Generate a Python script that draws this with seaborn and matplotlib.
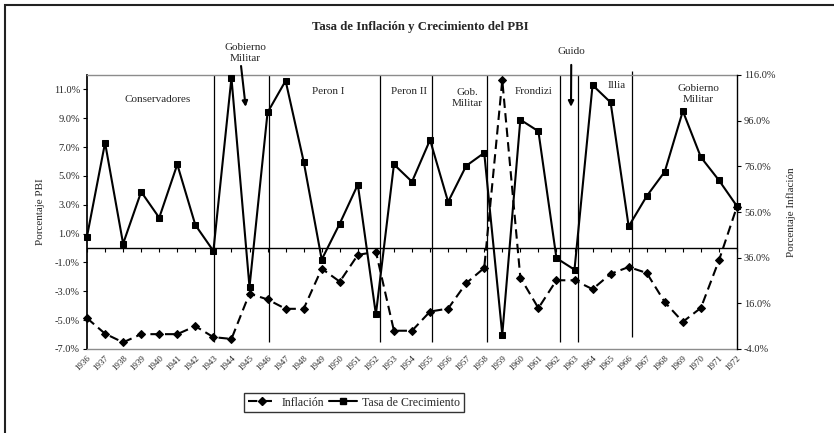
import numpy as np
import matplotlib
matplotlib.use("Agg")
import matplotlib.pyplot as plt
import matplotlib.transforms as mtransforms
import seaborn as sns
from matplotlib.lines import Line2D
from matplotlib.patches import Rectangle
from matplotlib.ticker import FuncFormatter

# datos
anios = list(range(1936, 1973))
crecimiento = [0.8, 7.3, 0.3, 3.9, 2.1, 5.8, 1.6, -0.2, 11.8, -2.7, 9.4, 11.6, 6.0,
               -0.8, 1.7, 4.4, -4.6, 5.8, 4.6, 7.5, 3.2, 5.7, 6.6, -6.0, 8.9, 8.1,
               -0.7, -1.5, 11.3, 10.1, 1.5, 3.6, 5.3, 9.5, 6.3, 4.7, 2.9]
inflacion = [9.5, 2.7, -1.1, 2.5, 2.5, 2.5, 6.0, 1.2, 0.4, 20.3, 17.7, 13.6, 13.6,
             31.2, 25.5, 37.2, 38.6, 4.0, 4.0, 12.4, 13.7, 24.8, 31.5, 113.7, 27.3,
             13.9, 26.1, 26.1, 22.2, 28.9, 31.9, 29.3, 16.5, 7.9, 14.0, 34.8, 58.4]

# cambios de gobierno
cortes = [1943.05, 1946.1, 1952.2, 1955.1, 1958.15, 1962.2, 1963.2, 1966.2]
periodos = ["Conservadores", "Peron I", "Peron II", "Gob.\nMilitar", "Frondizi",
            "Illia", "Gobierno\nMilitar"]
pos_periodos = [(0.109, 0.909), (0.371, 0.938), (0.495, 0.938), (0.585, 0.916),
                (0.687, 0.938), (0.815, 0.960), (0.940, 0.931)]

sns.set_theme(style="white")
plt.rcParams["font.family"] = ["Liberation Serif", "DejaVu Serif"]

fig = plt.figure(figsize=(8.34, 4.33), dpi=100)
ax = fig.add_axes([87 / 834, 1 - 349 / 433, 650 / 834, 274 / 433])
ax2 = ax.twinx()

sns.lineplot(x=anios, y=crecimiento, ax=ax, color="black", marker="s",
             markersize=4.5, markeredgecolor="black", linewidth=1.5, clip_on=False,
             zorder=5)
sns.lineplot(x=anios, y=inflacion, ax=ax2, color="black", marker="D",
             markersize=3.8, markeredgecolor="black", linewidth=1.5,
             linestyle=(0, (4.5, 2.5)), clip_on=False, zorder=5)

ax.set_xlim(1936, 1972)
ax.set_ylim(-7, 12)
ax2.set_ylim(-4, 116)
ax.set_yticks(np.arange(-7, 12, 2))
ax2.set_yticks(np.arange(-4, 117, 20))
pct = FuncFormatter(lambda v, _: f"{v:.1f}%")
ax.yaxis.set_major_formatter(pct)
ax2.yaxis.set_major_formatter(pct)

ax.set_xticks(anios)
ax.set_xticklabels([str(a) for a in anios], rotation=45, ha="right",
                   rotation_mode="anchor", fontsize=6.5)
desplazo = mtransforms.ScaledTranslation(-7 / 100, -6 / 100, fig.dpi_scale_trans)
for lab in ax.get_xticklabels():
    lab.set_transform(lab.get_transform() + desplazo)
ax.tick_params(axis="x", length=0, pad=4)
ax.tick_params(axis="y", left=True, length=3, width=0.8, color="black",
               labelsize=7.5, pad=2)
ax2.tick_params(axis="y", right=True, length=3, width=0.8, color="black",
                labelsize=7.5, pad=2)

for s in ["top", "bottom"]:
    ax.spines[s].set_color("#8c8c8c")
    ax.spines[s].set_linewidth(1)
ax.spines["left"].set_color("black")
ax.spines["right"].set_visible(False)
for s in ["top", "bottom", "left"]:
    ax2.spines[s].set_visible(False)
ax2.spines["right"].set_color("black")
ax2.spines["right"].set_linewidth(1)
ax.grid(False)
ax2.grid(False)

# eje horizontal en cero con marcas
ax.axhline(0, color="black", linewidth=1, zorder=2)
eje0 = ax.secondary_xaxis(7 / 19)
eje0.set_xticks(anios)
eje0.tick_params(axis="x", length=3, width=0.8, color="black", labelbottom=False,
                 direction="out")
eje0.spines["bottom"].set_visible(False)

# separadores de periodos
ax.vlines(cortes[:-1], -6.5, 12, color="black", linewidth=0.9, zorder=1)
ax.vlines(cortes[-1:], -6.2, 12.3, color="black", linewidth=0.9, zorder=1,
          clip_on=False)

for txt, (px, py) in zip(periodos, pos_periodos):
    ax.text(px, py, txt, transform=ax.transAxes, ha="center", va="center",
            fontsize=8, linespacing=1.3)

# anotaciones
ax.annotate("", xy=(0.2446, 0.8737), xytext=(0.2365, 1.043),
            xycoords="axes fraction", textcoords="axes fraction",
            arrowprops=dict(arrowstyle="-|>", color="black", lw=1.5,
                            mutation_scale=8))
ax.text(0.243, 1.080, "Gobierno\nMilitar", transform=ax.transAxes, ha="center",
        va="center", fontsize=8, linespacing=1.3)
ax.annotate("", xy=(0.7446, 0.8737), xytext=(0.745, 1.047),
            xycoords="axes fraction", textcoords="axes fraction",
            arrowprops=dict(arrowstyle="-|>", color="black", lw=1.5,
                            mutation_scale=8))
ax.text(0.7455, 1.085, "Guido", transform=ax.transAxes, ha="center",
        va="center", fontsize=8)

ax.set_ylabel("Porcentaje PBI", fontsize=8)
ax.yaxis.set_label_coords(-0.0646, 0.5)
ax2.set_ylabel("Porcentaje Inflación", fontsize=8)
ax2.yaxis.set_label_coords(1.0754, 0.5)

fig.text(420 / 834, 1 - 27 / 433, "Tasa de Inflación y Crecimiento del PBI",
         ha="center", va="center", fontsize=9.2, weight="bold")

handles = [
    Line2D([], [], color="black", lw=1.5, marker="D", markersize=3.8,
           linestyle=(0, (4.5, 2.5))),
    Line2D([], [], color="black", lw=1.5, marker="s", markersize=4.5),
]
leg = fig.legend(handles, ["Inflación", "Tasa de Crecimiento"], ncol=2,
                 loc="center", bbox_to_anchor=(354 / 834, 1 - 402.5 / 433),
                 fontsize=8.6, frameon=True, fancybox=False, handlelength=2.4,
                 handletextpad=0.4, columnspacing=0.4, borderpad=0.3)
leg.get_frame().set_edgecolor("black")
leg.get_frame().set_linewidth(1)

fig.add_artist(Rectangle((5 / 834, -0.1), 1.2, 1.1 - 5 / 433,
                         transform=fig.transFigure, fill=False,
                         edgecolor="#222222", linewidth=1.5, clip_on=False))

fig.savefig("out.png", dpi=100)
